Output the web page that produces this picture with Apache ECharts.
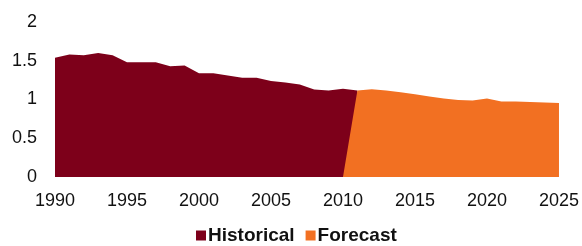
<!DOCTYPE html>
<html>
<head>
<meta charset="utf-8">
<script src="https://cdn.jsdelivr.net/npm/echarts@6/dist/echarts.min.js"></script>
<style>
html, body { margin: 0; padding: 0; background: #fff; }
#chartmain { width: 582px; height: 246px; }
</style>
</head>
<body>
<div id="chartmain"></div>
<script>
var years = [];
for (var y = 1990; y <= 2025; y++) {
	years.push(String(y));
}
// 1990 - 2011
var historical = [1.54, 1.58, 1.57, 1.60, 1.57, 1.48, 1.48, 1.48, 1.43, 1.44,
	1.34, 1.34, 1.31, 1.28, 1.28, 1.24, 1.22, 1.195, 1.13, 1.115, 1.14, 1.115];
// 2010 (zero start) - 2025
var forecast = [0, 1.115, 1.133, 1.115, 1.094, 1.068, 1.038, 1.012, 0.995, 0.986,
	1.012, 0.973, 0.973, 0.969, 0.96, 0.956];
var yTicks = [0, 0.5, 1, 1.5, 2];

var histData = [];
var foreData = [];
for (var i = 0; i < years.length; i++) {
	histData.push(i < historical.length ? historical[i] : '-');
	var j = i - 20;
	foreData.push(j >= 0 ? forecast[j] : '-');
}

var option = {
	animation : false,
	textStyle : {
		fontFamily : 'Liberation Sans, Arial, sans-serif'
	},
	grid : {
		left : 55,
		right : 21,
		top : 22,
		bottom : 69
	},
	legend : {
		left : 191,
		top : 221,
		itemWidth : 10,
		itemHeight : 10,
		itemGap : 11,
		icon : 'rect',
		textStyle : {
			fontSize : 19,
			fontWeight : 'bold',
			color : '#111',
			padding : [0, 0, 0, -3]
		},
		data : ['Historical', 'Forecast']
	},
	xAxis : {
		type : 'category',
		boundaryGap : false,
		data : years,
		axisLine : { show : false },
		axisTick : { show : false },
		axisLabel : {
			interval : 4,
			fontSize : 18,
			color : '#111',
			margin : 15
		}
	},
	yAxis : {
		type : 'value',
		min : yTicks[0],
		max : yTicks[yTicks.length - 1],
		interval : 0.5,
		splitLine : { show : false },
		axisLine : { show : false },
		axisTick : { show : false },
		axisLabel : {
			fontSize : 18,
			color : '#111',
			margin : 18
		}
	},
	series : [ {
		name : 'Historical',
		type : 'line',
		data : histData,
		symbol : 'none',
		lineStyle : { width : 0 },
		itemStyle : { color : '#7D001A' },
		areaStyle : { color : '#7D001A', opacity : 1 }
	}, {
		name : 'Forecast',
		type : 'line',
		data : foreData,
		symbol : 'none',
		lineStyle : { width : 0 },
		itemStyle : { color : '#F27022' },
		areaStyle : { color : '#F27022', opacity : 1 }
	} ]
};
var myChart = echarts.init(document.getElementById('chartmain'));
myChart.setOption(option);
</script>
</body>
</html>
